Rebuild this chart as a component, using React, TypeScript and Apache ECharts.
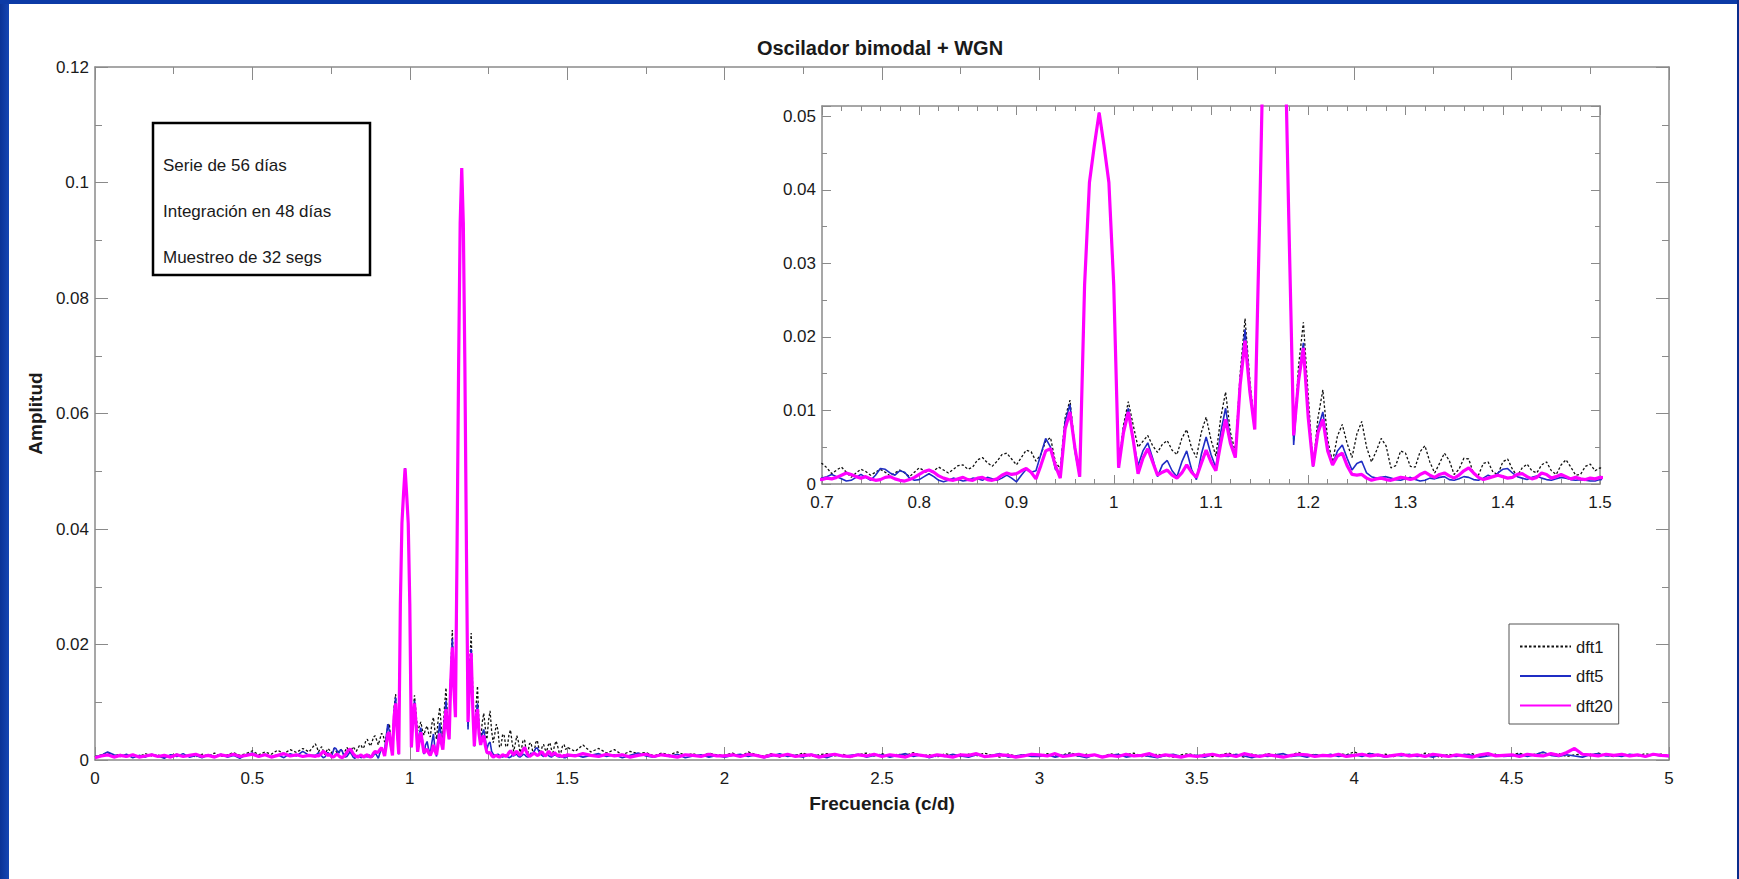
import React, { useEffect, useRef } from "react";
import * as echarts from "echarts";

// ---------- DATA (amplitudes in units of 1e-3) ----------
// frequency grids (c/d)
const LOW_START = 0, LOW_STEP = 0.02, LOW_COUNT = 35;      // 0.00 .. 0.68
const MID_START = 0.7, MID_STEP = 0.005, MID_COUNT = 160;  // 0.700 .. 1.495
const HIGH_START = 1.5, HIGH_STEP = 0.025, HIGH_COUNT = 141; // 1.500 .. 5.000

const dft1Low = [
  0.6, 0.9, 1.3, 0.7, 1.0, 0.5, 0.9, 0.6, 1.1, 0.7,
  0.9, 0.4, 0.8, 1.0, 0.6, 0.9, 0.5, 1.0, 0.7, 1.2,
  0.6, 0.9, 1.3, 0.8, 1.1, 1.6, 0.9, 1.4, 1.0, 1.7,
  1.1, 1.8, 1.3, 2.0, 1.4,
];
const dft5Low = [
  0.5, 0.8, 1.4, 0.9, 0.6, 1.0, 0.4, 0.8, 0.5, 1.0,
  0.7, 0.3, 0.9, 0.6, 1.1, 0.5, 0.8, 0.4, 0.9, 0.6,
  1.0, 0.5, 0.8, 0.3, 0.9, 1.2, 0.6, 1.0, 0.5, 0.9,
  0.4, 1.1, 0.7, 1.5, 0.8,
];
const dft20Low = [
  0.4, 0.7, 0.9, 0.5, 0.8, 0.6, 0.9, 0.5, 0.7, 0.9,
  0.6, 0.8, 0.5, 0.9, 0.6, 0.8, 1.0, 0.6, 0.8, 0.5,
  0.9, 0.7, 1.0, 0.6, 0.8, 1.0, 0.6, 0.9, 0.5, 0.8,
  1.1, 0.7, 0.9, 0.6, 0.8,
];

const dft1Mid = [
  2.8, 2.2, 1.4, 1.9, 2.3, 1.6, 0.9, 1.5, 2.0, 1.7,
  1.2, 1.6, 2.0, 1.6, 1.1, 1.5, 1.9, 1.5, 1.0, 1.6,
  2.2, 1.8, 1.3, 1.8, 2.3, 1.9, 1.5, 2.0, 2.5, 2.6,
  2.0, 2.3, 3.3, 3.6, 2.9, 2.4, 3.1, 4.0, 4.2, 3.4,
  2.6, 3.6, 4.6, 4.4, 3.1, 4.0, 5.8, 6.3, 3.0, 2.1,
  9.0, 11.4, 5.0, 1.0, 27, 41, 46, 50.5, 46, 41,
  27, 2.3, 8.0, 11.2, 8.0, 5.0, 5.8, 6.6, 5.2, 4.3,
  5.4, 5.9, 4.6, 4.0, 6.2, 7.4, 4.9, 3.6, 7.0, 9.1,
  6.0, 3.8, 9.0, 12.5, 7.0, 4.4, 15.0, 22.5, 14.0, 7.6,
  36, 68, 93, 102.5, 93, 68, 36, 5.8, 16, 22,
  12, 2.4, 9.0, 12.8, 6.0, 3.0, 6.5, 8.1, 5.5, 3.6,
  6.8, 8.5, 5.0, 3.0, 4.5, 6.2, 5.2, 2.2, 2.5, 4.5,
  4.2, 2.4, 2.3, 4.4, 5.2, 3.0, 1.5, 2.8, 4.2, 3.2,
  1.3, 2.0, 3.5, 3.4, 1.4, 1.2, 2.8, 3.0, 1.6, 1.3,
  3.0, 3.4, 2.0, 1.1, 2.2, 2.7, 1.8, 1.5, 2.6, 3.0,
  1.8, 1.3, 2.6, 3.3, 2.3, 1.2, 1.3, 2.4, 2.7, 1.8,
];
const dft5Mid = [
  0.8, 1.0, 1.3, 1.0, 0.7, 0.4, 0.5, 0.9, 1.3, 0.9,
  0.5, 1.2, 2.1, 2.0, 1.5, 1.2, 1.8, 1.6, 0.8, 0.5,
  0.6, 1.0, 1.4, 1.0, 0.5, 0.3, 0.5, 0.8, 0.6, 0.4,
  0.5, 0.8, 0.7, 0.5, 0.9, 0.7, 0.5, 0.8, 1.2, 0.8,
  0.3, 1.2, 2.0, 1.6, 1.8, 4.0, 6.2, 5.0, 2.0, 1.5,
  8.5, 10.8, 4.5, 1.0, 27, 41, 46, 50.5, 46, 41,
  27, 2.2, 7.5, 10.3, 6.0, 2.5, 4.5, 5.6, 3.5, 1.0,
  2.6, 3.2, 1.8, 1.0, 3.0, 4.5, 2.0, 0.6, 4.0, 6.4,
  4.0, 2.2, 7.0, 10.3, 6.0, 3.6, 14.0, 21.0, 13.0, 7.5,
  36, 68, 93, 102.5, 93, 68, 36, 5.3, 14.5, 19.2,
  9.5, 2.4, 7.5, 9.8, 5.0, 2.6, 4.5, 5.3, 3.5, 1.9,
  2.8, 3.1, 1.5, 1.0, 0.8, 0.9, 1.0, 0.8, 0.6, 0.5,
  0.7, 0.9, 0.6, 0.4, 0.5, 0.8, 0.7, 0.9, 1.0, 0.6,
  0.5, 0.7, 1.0, 0.9, 0.6, 0.5, 0.8, 1.2, 0.9, 1.5,
  2.0, 2.1, 1.5, 1.0, 0.8, 0.6, 0.9, 1.1, 0.8, 0.6,
  0.5, 0.7, 0.9, 0.8, 0.6, 0.5, 0.6, 0.5, 0.4, 0.4,
];
const dft20Mid = [
  0.6, 0.8, 0.7, 0.9, 1.2, 1.5, 1.3, 1.0, 0.8, 1.0,
  0.7, 0.5, 0.6, 0.9, 1.0, 0.7, 0.5, 0.4, 0.6, 0.9,
  1.3, 1.7, 1.9, 1.6, 1.1, 0.8, 0.6, 0.5, 0.7, 0.9,
  0.6, 0.5, 0.8, 0.9, 0.6, 0.5, 0.7, 1.2, 1.5, 1.3,
  1.4, 1.8, 2.1, 1.6, 0.7, 2.5, 4.5, 4.8, 2.5, 0.8,
  7.5, 9.8, 5.0, 1.0, 27, 41, 46, 50.5, 46, 41,
  27, 2.2, 7.0, 9.8, 6.0, 1.4, 3.5, 4.8, 3.0, 1.2,
  1.6, 1.9, 1.2, 0.8, 1.5, 2.6, 1.6, 0.9, 2.8, 4.6,
  3.0, 1.8, 5.5, 8.8, 5.5, 3.6, 13.5, 19.5, 12.5, 7.4,
  36, 68, 93, 102.5, 93, 68, 36, 6.6, 14.0, 18.5,
  9.0, 2.4, 7.0, 8.8, 4.5, 2.6, 3.8, 4.2, 2.5, 1.3,
  1.2, 1.3, 0.8, 0.5, 0.7, 0.8, 0.6, 0.5, 0.7, 0.9,
  0.8, 0.6, 0.8, 1.3, 1.6, 1.2, 0.9, 1.3, 1.5, 1.1,
  0.8, 1.2, 1.8, 2.2, 1.5, 0.9, 0.6, 0.8, 1.0, 1.2,
  1.0, 0.8, 0.9, 1.3, 1.4, 1.0, 0.7, 0.9, 1.5, 1.3,
  0.8, 1.0, 1.3, 1.0, 0.7, 0.9, 0.7, 0.6, 0.8, 0.7,
];

const dft1High = [
  2.2, 1.5, 2.6, 1.4, 2.0, 1.2, 1.8, 0.9, 1.5, 1.1, 1.3, 0.7, 1.2, 0.9, 1.4, 0.8, 1.1, 0.6, 1.2, 0.9,
  0.8, 1.2, 0.6, 1.4, 0.9, 0.7, 1.1, 0.5, 1.0, 0.8, 1.2, 0.6, 0.9, 1.1, 0.7, 1.0, 0.5, 0.9, 1.2, 0.7,
  1.1, 0.6, 1.0, 0.8, 1.3, 0.7, 0.9, 0.5, 1.1, 0.8, 0.6, 1.0, 0.7, 1.2, 0.8, 0.5, 1.0, 0.7, 0.9, 0.6,
  0.8, 1.1, 0.7, 0.9, 1.3, 0.6, 1.0, 0.8, 0.5, 1.1, 0.7, 0.9, 1.2, 0.6, 0.8, 1.0, 0.7, 0.5, 0.9, 1.1,
  0.7, 1.0, 0.6, 0.9, 1.2, 0.8, 0.5, 1.0, 0.7, 1.1, 0.8, 0.6, 0.9, 1.3, 0.7, 1.0, 0.6, 0.8, 1.1, 0.9,
  1.4, 0.8, 1.2, 0.7, 1.0, 0.6, 1.1, 0.9, 0.7, 1.2, 0.8, 0.5, 1.0, 0.7, 0.9, 1.1, 0.6, 0.8, 1.0, 0.7,
  0.9, 1.2, 0.7, 1.0, 1.3, 0.8, 1.1, 0.6, 0.9, 1.0, 0.7, 1.2, 0.8, 0.6, 1.0, 0.9, 0.7, 1.1, 0.8, 1.0,
  0.8,
];
const dft5High = [
  0.6, 0.9, 0.5, 0.8, 1.1, 0.6, 0.9, 0.4, 0.8, 1.2, 0.7, 0.5, 0.9, 0.6, 1.0, 0.4, 0.7, 0.9, 0.5, 0.8,
  0.5, 0.8, 1.0, 0.6, 0.9, 0.4, 0.7, 1.1, 0.6, 0.8, 0.5, 1.0, 0.7, 0.4, 0.9, 0.6, 0.8, 1.0, 0.5, 0.8,
  0.9, 0.5, 0.8, 1.1, 0.6, 0.9, 0.4, 0.8, 0.6, 1.0, 0.7, 0.5, 0.9, 0.6, 0.8, 1.1, 0.5, 0.7, 0.9, 0.6,
  0.6, 0.9, 0.5, 0.8, 1.0, 0.7, 0.4, 0.9, 0.6, 0.8, 1.0, 0.5, 0.7, 0.9, 0.6, 0.4, 0.8, 1.0, 0.6, 0.7,
  0.8, 0.5, 0.9, 0.7, 0.6, 1.0, 0.7, 0.4, 0.8, 0.6, 0.9, 1.1, 0.6, 0.8, 0.5, 0.9, 0.7, 1.0, 0.6, 0.8,
  0.9, 0.6, 1.1, 0.8, 0.5, 0.9, 0.7, 1.0, 0.6, 0.8, 0.5, 0.9, 0.7, 0.6, 1.0, 0.8, 0.5, 0.7, 0.9, 0.6,
  0.7, 1.0, 0.6, 0.9, 1.4, 0.8, 0.6, 0.9, 0.7, 0.5, 0.9, 1.1, 0.7, 0.8, 0.6, 1.0, 0.8, 0.6, 0.9, 0.7,
  0.6,
];
const dft20High = [
  0.9, 0.7, 1.1, 0.8, 0.6, 1.0, 0.7, 0.9, 0.5, 0.8, 1.0, 0.6, 0.9, 0.7, 0.5, 0.9, 0.8, 0.6, 1.0, 0.7,
  0.7, 0.9, 0.6, 1.0, 0.8, 0.5, 0.9, 0.7, 1.0, 0.6, 0.8, 0.9, 0.5, 0.8, 1.0, 0.7, 0.6, 0.9, 0.7, 1.0,
  0.6, 0.9, 0.7, 0.5, 1.0, 0.8, 0.6, 0.9, 0.7, 0.5, 0.9, 0.8, 1.1, 0.6, 0.7, 0.9, 0.8, 0.5, 0.7, 1.0,
  0.9, 0.7, 1.1, 0.6, 0.8, 1.0, 0.7, 0.9, 0.5, 0.8, 0.6, 1.0, 0.7, 0.8, 1.1, 0.6, 0.9, 0.7, 0.5, 0.8,
  0.6, 0.8, 1.0, 0.7, 0.9, 0.6, 1.1, 0.8, 0.6, 0.9, 0.7, 0.5, 0.8, 1.0, 0.9, 0.6, 0.8, 0.7, 1.0, 0.6,
  0.8, 1.0, 0.7, 0.9, 0.6, 0.8, 1.0, 0.7, 0.9, 0.6, 1.0, 0.8, 0.6, 0.9, 0.7, 0.5, 0.9, 1.1, 0.7, 0.8,
  0.9, 0.6, 1.0, 0.8, 0.7, 1.1, 0.8, 1.3, 2.0, 1.0, 0.9, 0.7, 1.0, 0.8, 1.0, 0.7, 0.9, 0.6, 1.0, 0.8,
  0.7,
];

const seriesNames = ["dft1", "dft5", "dft20"];
const titleText = "Oscilador bimodal + WGN";
const xName = "Frecuencia (c/d)";
const yName = "Amplitud";
const noteLines = ["Serie de 56 días", "Integración en 48 días", "Muestreo de 32 segs"];

// ---------- helpers ----------
function freqGrid(start: number, step: number, count: number): number[] {
  const out: number[] = [];
  for (let i = 0; i < count; i++) out.push(Math.round((start + i * step) * 10000) / 10000);
  return out;
}
const freqs = [
  ...freqGrid(LOW_START, LOW_STEP, LOW_COUNT),
  ...freqGrid(MID_START, MID_STEP, MID_COUNT),
  ...freqGrid(HIGH_START, HIGH_STEP, HIGH_COUNT),
];
function pairs(low: number[], mid: number[], high: number[]): number[][] {
  const vals = [...low, ...mid, ...high];
  return freqs.map((f, i) => [f, vals[i] / 1000]);
}
const seriesData = [
  pairs(dft1Low, dft1Mid, dft1High),
  pairs(dft5Low, dft5Mid, dft5High),
  pairs(dft20Low, dft20Mid, dft20High),
];

const FONT = "'Liberation Sans', Arial, Helvetica, sans-serif";
const AXIS_COLOR = "#8a8a8a";
const TEXT_COLOR = "#1a1a1a";
const TICK_FONT = 17;

const lineStyles = [
  { color: "#111111", width: 1.3, type: [2.5, 2] as any },
  { color: "#1f2dc4", width: 1.6, type: "solid" as any },
  { color: "#ff00ff", width: 3.2, type: "solid" as any },
];

function xAxis(gridIndex: number, min: number, max: number, interval: number, minorSplit: number,
  position: "bottom" | "top", show: boolean, tickLen: number, minorLen: number, name?: string) {
  return {
    type: "value", gridIndex, min, max, interval, position,
    name: name || "", nameLocation: "middle", nameGap: 34,
    nameTextStyle: { fontFamily: FONT, fontSize: 19, fontWeight: "bold", color: TEXT_COLOR },
    axisLine: { show: true, onZero: false, lineStyle: { color: AXIS_COLOR, width: 1.5 } },
    axisTick: { show: true, inside: true, length: tickLen, lineStyle: { color: AXIS_COLOR, width: 1 } },
    minorTick: { show: true, splitNumber: minorSplit, length: minorLen, lineStyle: { color: AXIS_COLOR, width: 1 } },
    axisLabel: { show, fontFamily: FONT, fontSize: TICK_FONT, color: TEXT_COLOR, margin: 10 },
    splitLine: { show: false },
    minorSplitLine: { show: false },
  };
}
function yAxis(gridIndex: number, min: number, max: number, interval: number, minorSplit: number,
  position: "left" | "right", show: boolean, tickLen: number, minorLen: number, name?: string) {
  return {
    type: "value", gridIndex, min, max, interval, position,
    name: name || "", nameLocation: "middle", nameGap: 45,
    nameTextStyle: { fontFamily: FONT, fontSize: 19, fontWeight: "bold", color: TEXT_COLOR },
    axisLine: { show: true, onZero: false, lineStyle: { color: AXIS_COLOR, width: 1.5 } },
    axisTick: { show: true, inside: true, length: tickLen, lineStyle: { color: AXIS_COLOR, width: 1 } },
    minorTick: { show: true, splitNumber: minorSplit, length: minorLen, lineStyle: { color: AXIS_COLOR, width: 1 } },
    axisLabel: { show, fontFamily: FONT, fontSize: TICK_FONT, color: TEXT_COLOR, margin: 6, showMaxLabel: max === 0.12 },
    splitLine: { show: false },
    minorSplitLine: { show: false },
  };
}

export default function App() {
  const ref = useRef<HTMLDivElement>(null);
  useEffect(() => {
    if (!ref.current) return;
    const chart = echarts.init(ref.current, undefined, { renderer: "svg" });

    const series: any[] = [];
    seriesData.forEach((data, i) => {
      series.push({
        name: seriesNames[i], type: "line", xAxisIndex: 0, yAxisIndex: 0, data,
        symbol: "none", showSymbol: false, lineStyle: lineStyles[i], z: 3 + i, clip: true,
      });
    });
    seriesData.forEach((data, i) => {
      series.push({
        name: seriesNames[i], type: "line", xAxisIndex: 2, yAxisIndex: 2, data,
        symbol: "none", showSymbol: false, lineStyle: lineStyles[i], z: 3 + i, clip: true,
      });
    });

    chart.setOption({
      animation: false,
      backgroundColor: "#ffffff",
      grid: [
        { left: 95, top: 67, width: 1574, height: 693, show: false },
        { left: 822, top: 106, width: 778, height: 378, show: true, backgroundColor: "#ffffff", borderWidth: 0 },
      ],
      xAxis: [
        xAxis(0, 0, 5, 0.5, 2, "bottom", true, 13, 7, xName),
        xAxis(0, 0, 5, 0.5, 2, "top", false, 13, 7),
        xAxis(1, 0.7, 1.5, 0.1, 5, "bottom", true, 9, 5),
        xAxis(1, 0.7, 1.5, 0.1, 5, "top", false, 9, 5),
      ],
      yAxis: [
        yAxis(0, 0, 0.12, 0.02, 2, "left", true, 13, 7, yName),
        yAxis(0, 0, 0.12, 0.02, 2, "right", false, 13, 7),
        yAxis(1, 0, 0.0514, 0.01, 2, "left", true, 9, 5),
        yAxis(1, 0, 0.0514, 0.01, 2, "right", false, 9, 5),
      ],
      legend: {
        orient: "vertical", left: 1509, top: 624,
        data: seriesNames,
        itemWidth: 51, itemHeight: 14, itemGap: 12.5,
        padding: [14, 6, 10, 10],
        backgroundColor: "#ffffff", borderColor: "#555555", borderWidth: 1, borderRadius: 0,
        textStyle: { fontFamily: FONT, fontSize: 16.5, color: TEXT_COLOR },
        itemStyle: { opacity: 0 },
        selectedMode: false,
      },
      graphic: [
        { type: "rect", shape: { x: 0, y: 0, width: 9, height: 879 }, style: { fill: new echarts.graphic.LinearGradient(0, 0, 1, 0, [{ offset: 0, color: "#0a3296" }, { offset: 1, color: "#1546b4" }]) }, z: 100 },
        { type: "rect", shape: { x: 0, y: 0, width: 1739, height: 4 }, style: { fill: "#0c3aa6" }, z: 100 },
        { type: "rect", shape: { x: 1737, y: 0, width: 2, height: 879 }, style: { fill: "#0a2c8c" }, z: 100 },
        {
          type: "text", x: 880, y: 48, z: 50,
          style: { text: titleText, fontFamily: FONT, fontSize: 20, fontWeight: "bold", fill: TEXT_COLOR, align: "center", verticalAlign: "middle" },
        },
        { type: "rect", shape: { x: 153, y: 123, width: 217, height: 152 }, style: { fill: "#ffffff", stroke: "#000000", lineWidth: 2.5 }, z: 50 },
        ...noteLines.map((t, i) => ({
          type: "text", x: 163, y: 165 + i * 46, z: 51,
          style: { text: t, fontFamily: FONT, fontSize: 17, fill: TEXT_COLOR, align: "left", verticalAlign: "middle" },
        })),
      ],
      series,
    });
    return () => chart.dispose();
  }, []);
  return <div ref={ref} style={{ position: "fixed", left: 0, top: 0, width: 1739, height: 879 }} />;
}
